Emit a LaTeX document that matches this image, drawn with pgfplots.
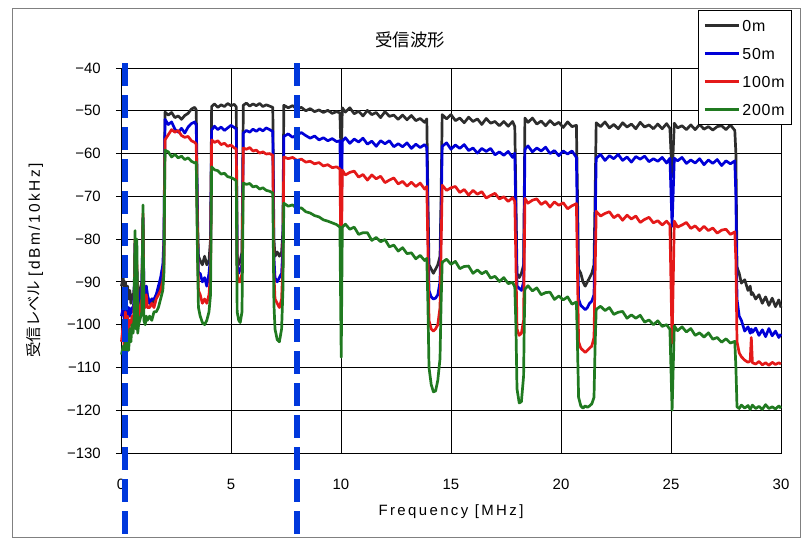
\documentclass[border=0pt]{standalone}
\usepackage{pgfplots}
\usepackage{pgfplotstable}
\pgfplotsset{compat=1.18}
\usepackage{fontspec}
\setmainfont{Liberation Sans}
\newfontfamily\jp{Noto Sans CJK JP}
\newfontfamily\lsp[LetterSpace=16]{Liberation Sans}
\newfontfamily\lsl[LetterSpace=5]{Liberation Sans}

\definecolor{ck}{RGB}{45,45,45}
\definecolor{cb}{RGB}{0,0,215}
\definecolor{cr}{RGB}{228,25,25}
\definecolor{cg}{RGB}{32,122,32}
\definecolor{cd}{RGB}{0,56,220}

\pgfplotstableread{
x k b r g
0.02 -91 -98 -104 -107
0.10 -89 -96 -100 -105
0.15 -92 -99 -106 -108
0.20 -90 -97 -97 -104
0.25 -93 -95 -101 -107
0.30 -91 -99 -98 -103
0.35 -94 -96 -102 -106
0.40 -92 -98 -99 -101
0.45 -95 -97 -100 -104
0.50 -93 -96 -98 -100
0.55 -94 -97 -100 -102
0.60 -91 -93 -95 -98
0.64 -81 -81 -80 -78
0.68 -93 -95 -98 -101
0.72 -87 -87 -85 -80
0.76 -94 -96 -99 -102
0.80 -93 -95 -98 -100
0.85 -92 -94 -97 -99
0.90 -91 -92 -95 -98
0.95 -90 -91 -94 -97
1.00 -75 -75 -74 -72
1.04 -92 -91 -95 -99
1.10 -93 -94 -96 -100
1.15 -91 -91 -93 -98
1.20 -94 -93 -96 -99
1.30 -95 -95 -96 -98
1.40 -94 -94 -95 -99
1.50 -95 -94 -96 -97
1.60 -93 -93 -94 -97
1.70 -92 -91 -93 -96
1.80 -90 -89 -92 -94
1.90 -88 -86 -90 -92
1.95 -84 -80 -86 -88
2.00 -50.3 -52.0 -56.8 -59.2
2.15 -51.0 -53.2 -55.6 -59.6
2.30 -50.4 -52.6 -54.4 -60.8
2.45 -51.6 -54.3 -55.0 -60.2
2.60 -51.2 -55.0 -54.6 -61.0
2.75 -52.0 -54.1 -55.8 -60.6
2.90 -51.1 -55.2 -56.2 -61.4
3.05 -50.6 -53.8 -56.0 -61.0
3.20 -49.6 -53.0 -57.0 -61.8
3.35 -49.2 -52.6 -57.4 -62.2
3.42 -49.8 -53.4 -57.8 -62.0
3.48 -75 -78 -80 -85
3.52 -84 -88 -92 -96
3.60 -85 -88 -93 -98
3.70 -86 -90 -95 -99.5
3.80 -84 -89 -94 -100
3.90 -86 -91 -95 -99
4.00 -85 -88 -93 -97
4.07 -80 -84 -88 -93
4.12 -49.0 -54.5 -56.8 -63.1
4.25 -48.4 -53.6 -57.4 -63.8
4.40 -49.2 -54.4 -57.0 -64.0
4.55 -48.6 -53.8 -57.9 -64.8
4.70 -49.0 -54.6 -57.6 -64.6
4.85 -48.3 -54.0 -58.3 -65.4
5.00 -48.8 -53.4 -58.0 -65.6
5.15 -48.5 -53.9 -58.7 -66.0
5.24 -49.1 -54.3 -58.9 -66.4
5.28 -84 -86 -88 -97
5.35 -86 -88 -90 -99
5.42 -85 -87 -90 -99.5
5.50 -83 -86 -88 -97
5.56 -48.7 -55.2 -58.7 -66.9
5.70 -48.2 -54.6 -59.0 -67.2
5.85 -48.9 -55.0 -58.6 -67.0
6.00 -48.4 -54.3 -59.4 -67.8
6.15 -48.8 -54.8 -59.2 -67.6
6.30 -48.3 -54.2 -59.9 -68.3
6.45 -49.0 -54.7 -59.6 -68.0
6.60 -48.6 -54.0 -60.1 -68.6
6.75 -48.9 -54.4 -60.0 -68.8
6.90 -49.2 -54.8 -60.4 -69.2
6.95 -80 -84 -88 -95
7.00 -84 -89 -94 -101
7.10 -83 -90 -95 -103.5
7.20 -84 -89 -96 -104
7.30 -83 -88 -94 -101
7.36 -78 -82 -86 -92
7.40 -48.7 -56.0 -60.8 -71.6
7.60 -49.3 -55.4 -61.2 -72.3
7.80 -48.8 -56.2 -60.9 -72.0
8.00 -49.6 -55.6 -61.6 -72.9
8.20 -49.2 -55.1 -61.3 -72.7
8.40 -50.0 -55.8 -62.0 -73.6
8.60 -49.5 -56.4 -61.8 -73.9
8.80 -50.2 -55.9 -62.4 -74.5
9.00 -49.8 -56.8 -62.1 -74.8
9.20 -50.4 -56.3 -62.9 -75.5
9.40 -49.9 -57.0 -62.6 -75.8
9.60 -50.6 -56.5 -63.3 -76.2
9.80 -50.2 -57.2 -63.1 -76.6
9.95 -50.5 -57.0 -63.6 -77.2
10.01 -61.5 -75.5 -89 -107.6
10.06 -49.3 -57.1 -63.9 -77.2
10.2 -50.3 -56.3 -65.0 -76.5
10.4 -49.3 -57.6 -64.4 -77.7
10.6 -50.7 -56.6 -64.1 -77.2
10.8 -50.1 -57.3 -65.5 -78.9
11.0 -51.2 -56.4 -64.9 -78.5
11.2 -49.9 -57.8 -66.2 -78.5
11.4 -50.9 -57.1 -65.0 -80.3
11.6 -50.4 -58.3 -65.9 -79.6
11.8 -51.6 -57.0 -65.3 -80.6
12.0 -50.2 -57.7 -66.8 -80.1
12.2 -51.3 -57.0 -66.2 -81.8
12.4 -51.0 -58.4 -65.7 -81.4
12.6 -52.0 -57.7 -67.1 -82.8
12.8 -51.0 -58.4 -66.5 -82.0
13.0 -52.1 -57.5 -67.6 -83.4
13.2 -51.1 -58.8 -66.7 -83.2
13.4 -52.3 -57.8 -67.7 -84.6
13.6 -51.8 -58.6 -66.9 -83.8
13.8 -52.7 -57.9 -68.3 -85.0
13.9 -51.9 -58.6 -67.7 -84.5
13.95 -70 -75 -82 -95
14.0 -86 -92 -99 -110
14.1 -87 -93.5 -101 -114
14.2 -88 -94 -101.5 -115.7
14.3 -87 -93.8 -101 -115.5
14.4 -86 -93 -100 -113
14.5 -84 -90 -96 -108
14.55 -70 -75 -82 -95
14.6 -50.9 -58.3 -67.4 -85.4
14.8 -51.9 -57.5 -68.6 -84.7
15.0 -50.9 -59.0 -68.0 -85.9
15.2 -52.3 -58.0 -67.7 -85.2
15.4 -51.7 -58.8 -69.1 -86.9
15.6 -52.8 -57.9 -68.4 -86.4
15.8 -51.5 -59.3 -69.7 -86.3
16.0 -52.5 -58.7 -68.6 -88.0
16.2 -51.9 -59.9 -69.5 -87.2
16.4 -53.2 -58.8 -68.9 -88.1
16.6 -51.8 -59.5 -70.4 -87.5
16.8 -52.9 -58.8 -69.8 -89.1
17.0 -52.5 -60.3 -69.3 -88.7
17.2 -53.5 -59.6 -70.6 -89.9
17.4 -52.5 -60.4 -70.1 -89.0
17.6 -53.6 -59.5 -71.2 -90.4
17.8 -52.5 -60.9 -70.3 -90.1
17.9 -53.7 -59.9 -71.2 -91.2
17.95 -70 -75 -85 -100
18.0 -88 -91 -101 -115
18.1 -89 -91.5 -102.5 -118.3
18.2 -88 -92 -102 -118
18.3 -86 -90 -99 -112
18.33 -70 -75 -85 -100
18.36 -51.7 -59.0 -70.5 -91.7
18.5 -52.7 -58.2 -71.6 -90.9
18.7 -51.7 -59.6 -70.9 -92.1
18.9 -53.1 -58.7 -70.6 -91.4
19.1 -52.4 -59.4 -71.9 -93.0
19.3 -53.5 -58.5 -71.2 -92.5
19.5 -52.3 -60.0 -72.5 -92.4
19.7 -53.3 -59.3 -71.3 -94.1
19.9 -52.7 -60.5 -72.1 -93.3
20.1 -53.9 -59.4 -71.5 -94.2
20.3 -52.6 -60.1 -72.9 -93.5
20.5 -53.7 -59.4 -72.2 -95.2
20.7 -53.4 -60.9 -71.7 -94.7
20.75 -70 -78 -88 -105
20.8 -87 -94 -104 -117
20.9 -88 -95.5 -105.5 -119
21.0 -90 -96 -106 -119.5
21.1 -91 -96.5 -106.5 -119
21.2 -90 -96 -106 -119.3
21.3 -89 -95 -105.5 -119
21.4 -88 -94.5 -105 -118.5
21.5 -86 -93 -103 -117
21.55 -70 -78 -88 -105
21.6 -52.8 -61.1 -73.5 -96.4
21.8 -53.7 -60.2 -74.6 -95.7
22.0 -52.6 -61.6 -74.0 -96.7
22.2 -54.0 -60.5 -73.6 -96.0
22.4 -53.2 -61.2 -75.0 -97.6
22.6 -54.2 -60.2 -74.3 -97.1
22.8 -52.8 -61.6 -75.6 -96.9
23.0 -53.8 -60.8 -74.4 -98.5
23.2 -53.1 -62.0 -75.3 -97.7
23.4 -54.2 -60.7 -74.6 -98.5
23.6 -52.7 -61.3 -76.1 -97.8
23.8 -53.8 -60.6 -75.4 -99.4
24.0 -53.3 -61.9 -74.9 -98.9
24.2 -54.2 -61.2 -76.2 -100.0
24.4 -53.1 -61.8 -75.7 -99.1
24.6 -54.2 -60.9 -76.7 -100.4
24.8 -53.0 -62.2 -75.8 -100.0
24.95 -54.1 -61.1 -76.7 -101.1
25.05 -65.4 -77 -104.3 -120
25.15 -52.9 -61.1 -75.8 -100.3
25.3 -54.0 -61.7 -77.2 -101.4
25.5 -53.5 -60.9 -76.7 -100.5
25.7 -54.4 -62.3 -76.1 -101.7
25.9 -53.3 -61.5 -77.5 -100.9
26.1 -54.4 -62.2 -76.9 -102.5
26.3 -53.2 -61.2 -78.0 -101.9
26.5 -54.3 -62.6 -77.0 -102.9
26.7 -53.7 -61.5 -78.0 -101.9
26.9 -54.5 -62.3 -77.4 -103.4
27.1 -53.7 -61.4 -78.6 -103.0
27.3 -53.5 -62.8 -77.9 -104.1
27.5 -54.4 -61.7 -77.7 -103.3
27.7 -53.3 -62.4 -78.9 -104.3
27.9 -54.6 -61.7 -78.3 -103.9
27.95 -60 -70 -85 -110
28.0 -86.5 -94 -104 -119.2
28.1 -88 -98 -106.6 -119.6
28.2 -90.3 -99 -107.5 -118.8
28.35 -89.5 -101.5 -108.3 -119.5
28.5 -92 -100.5 -108.8 -118.9
28.6 -91 -102 -108.5 -119.8
28.65 -93 -101 -103 -119.3
28.7 -92.5 -101.8 -108.9 -118.8
28.85 -94 -100.8 -109.2 -119.6
29.0 -93 -102.5 -108.6 -119.1
29.15 -95 -101.2 -109.4 -119.8
29.3 -93.5 -102.8 -108.9 -118.7
29.45 -95.5 -100.9 -109.5 -119.6
29.6 -93.8 -102.6 -108.8 -119.2
29.75 -95.8 -101.5 -109.3 -119.7
29.9 -94.2 -103.0 -108.9 -119.0
30.0 -96 -102.2 -109.2 -119.5
}\wave

\begin{document}
\begin{tikzpicture}
\path[use as bounding box] (0bp,0bp) rectangle (805bp,-542bp);
\draw[gray, line width=1bp] (12bp,-8bp) rectangle (800bp,-537bp);
\node[font=\jp\fontsize{17.5}{20}\selectfont] at (410bp,-40bp) {受信波形};
\begin{axis}[
  at={(121bp,-453bp)}, anchor=south west,
  scale only axis, width=660bp, height=385bp,
  xmin=0, xmax=30, ymin=-130, ymax=-40,
  xtick={0,5,...,30}, xticklabels={0,5,10,15,20,25,30},
  ytick={-130,-120,...,-40},
  yticklabels={−130,−120,−110,−100,−90,−80,−70,−60,−50,−40},
  grid=major, major grid style={black, line width=0.9bp},
  axis line style={black, line width=0.9bp},
  xtick style={draw=none}, ytick style={black, line width=0.9bp},
  tick align=outside, major tick length=5bp,
  xtick pos=bottom, ytick pos=left,
  ticklabel style={font=\fontsize{15}{18}\selectfont},
  xticklabel style={inner sep=0bp, anchor=north, yshift=-21bp},
  yticklabel style={inner sep=0bp, anchor=east, xshift=-15bp},
  xlabel={Frequency [MHz]},
  xlabel style={font=\lsp\fontsize{15}{18}\selectfont, at={(axis description cs:0.5,0)}, anchor=center, yshift=-59bp},
  ylabel={{\jp 受信レベル} {\lsp [dBm/10kHz]}},
  ylabel style={font=\fontsize{15.5}{18}\selectfont, at={(axis description cs:-0.1303,0.5)}, anchor=center},
  clip=false,
  legend style={at={(axis description cs:0.8742,1.1506)}, anchor=north west,
    draw=black, line width=0.8bp, fill=white, inner xsep=5bp, inner ysep=7.5bp,
    row sep=12.6bp, font=\lsl\fontsize{16}{19}\selectfont,
    nodes={inner sep=2bp, text height=11.4bp, text depth=0bp}, cells={anchor=west}},
  legend image code/.code={\draw[#1, line width=3bp] (0bp,0bp) -- (34bp,0bp);},
  every axis plot/.append style={line join=round},
]
\addplot[ck, line width=2.7bp] table[x=x,y=k]{\wave};
\addlegendentry{0m}
\addplot[cb, line width=2.7bp] table[x=x,y=b]{\wave};
\addlegendentry{50m}
\addplot[cr, line width=2.7bp] table[x=x,y=r]{\wave};
\addlegendentry{100m}
\addplot[cg, line width=2.7bp] table[x=x,y=g]{\wave};
\addlegendentry{200m}
\addplot[cd, line width=6bp, dash pattern=on 23bp off 9bp, forget plot] coordinates {(0.18,-38.83) (0.18,-151.5)};
\addplot[cd, line width=6bp, dash pattern=on 23bp off 9bp, forget plot] coordinates {(8.02,-38.83) (8.02,-151.5)};
\end{axis}
\end{tikzpicture}
\end{document}
